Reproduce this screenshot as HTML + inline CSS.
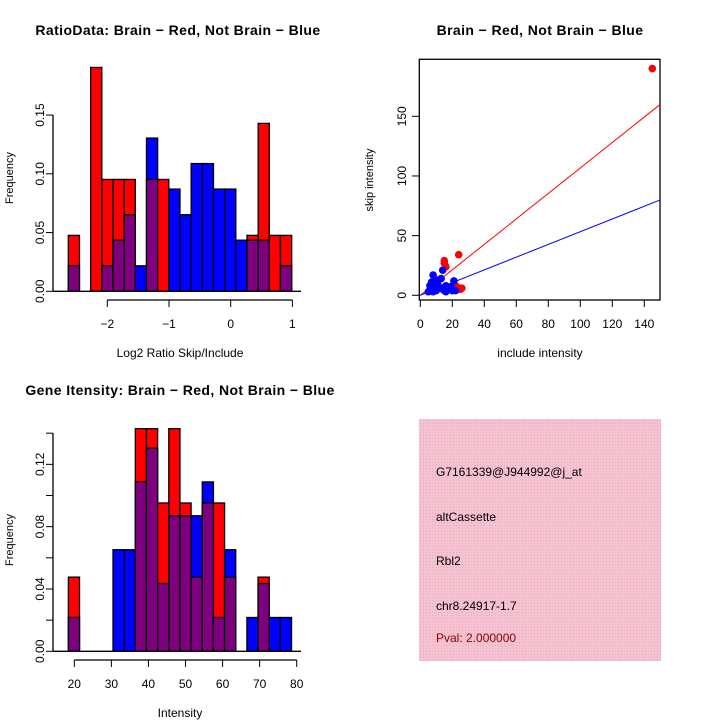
<!DOCTYPE html>
<html><head><meta charset="utf-8"><style>
html,body{margin:0;padding:0;background:#fff;}
svg{display:block;font-family:"Liberation Sans",sans-serif;}
</style></head><body>
<svg id="c" width="720" height="720" viewBox="0 0 720 720">
<rect width="720" height="720" fill="#fff"/>
<defs><pattern id="hatch" width="3" height="3" patternUnits="userSpaceOnUse"><rect width="3" height="3" fill="#f4c2d0"/><rect width="1" height="1" fill="#eea8bc"/></pattern></defs>
<g id="p1"></g>
<g id="p2"></g>
<g id="p3"></g>
<g>
<rect x="419" y="419" width="242" height="242" fill="url(#hatch)"/>
<text x="436" y="476" font-size="12">G7161339@J944992@j_at</text>
<text x="436" y="521" font-size="12">altCassette</text>
<text x="436" y="565" font-size="12">Rbl2</text>
<text x="436" y="610" font-size="12">chr8.24917-1.7</text>
<text x="436" y="642" font-size="12" fill="#8b0000">Pval: 2.000000</text>
</g>
</svg>
<script>
// ---- data ----
const ratioStart = -2.632, ratioWidth = 0.181;
const ratioRed = [0.0476,0,0.1905,0.0952,0.0952,0.0952,0,0.0952,0.0952,0,0,0,0,0,0,0,0.0476,0.1429,0.0476,0.0476];
const ratioBlue = [0.0217,0,0,0.0217,0.0435,0.0652,0.0217,0.1304,0,0.087,0.0652,0.1087,0.1087,0.087,0.087,0.0435,0.0435,0.0435,0,0.0217];
const ratioXTicks = [-2,-1,0,1];
const ratioYTicks = [0,0.05,0.10,0.15];
const ratioYLabels = ["0.00","0.05","0.10","0.15"];
const intStart = 18.4, intWidth = 3.01;
const intRed = [0.0476,0,0,0,0,0,0.1429,0.1429,0.0952,0.1429,0.0952,0.0476,0.0952,0.0952,0.0476,0,0,0.0476,0,0];
const intBlue = [0.0217,0,0,0,0.0652,0.0652,0.1087,0.1304,0.0435,0.087,0.087,0.087,0.1087,0.0217,0.0652,0,0.0217,0.0435,0.0217,0.0217];
const intXTicks = [20,30,40,50,60,70,80];
const intYTicks = [0,0.02,0.04,0.06,0.08,0.10,0.12,0.14];
const intYLabels = ["0.00","","0.04","","0.08","","0.12",""];
const scRedX = [145,24,15,16,15,22,26,25,10,12,18,20,23,14,9];
const scRedY = [190,34,29,24,27,8,6,5,13,6,5,4,7,5,9];
const scBlueX = [8,14,21,13,6,7,9,10,11,12,15,16,17,18,19,20,5,8,13,22,10,16];
const scBlueY = [17,21,12,14,8,11,5,4,9,6,4,8,5,6,7,4,3,3,6,4,12,3];
const scXTicks = [0,20,40,60,80,100,120,140];
const scYTicks = [0,50,100,150];
const redSlope = 1.067, blueSlope = 0.533;

const NS="http://www.w3.org/2000/svg";
function mk(p,tag,a,txt){const e=document.createElementNS(NS,tag);for(const k in a)e.setAttribute(k,a[k]);if(txt!==undefined)e.textContent=txt;p.appendChild(e);return e;}

function hist(g,cfg){
  const xs=v=>cfg.x0px+(v-cfg.x0)*cfg.xk, ys=v=>cfg.y0px-v*cfg.yk;
  for(let i=0;i<cfg.red.length;i++){
    const l=xs(cfg.start+i*cfg.w), r=xs(cfg.start+(i+1)*cfg.w);
    const rv=cfg.red[i], bv=cfg.blue[i], mx=Math.max(rv,bv), mn=Math.min(rv,bv);
    if(mx<=0) continue;
    const top=mk(g,'rect',{x:l,y:ys(mx),width:r-l,height:ys(0)-ys(mx),fill:rv>=bv?'#ff0000':'#0000ff',stroke:'#000','stroke-width':1.3});
    
    
    if(mn>0){const o=mk(g,'rect',{x:l,y:ys(mn),width:r-l,height:ys(0)-ys(mn),fill:'#7f007f',stroke:'#000','stroke-width':1.3});
      
      }
  }
  mk(g,'line',{x1:53,x2:301,y1:ys(0),y2:ys(0),stroke:'#000','stroke-width':1.3});
  const ya=cfg.yt[cfg.yt.length-1];
  mk(g,'line',{x1:53,x2:53,y1:ys(0),y2:ys(ya),stroke:'#000','stroke-width':1.3});
  cfg.yt.forEach((t,i)=>{mk(g,'line',{x1:46,x2:53,y1:ys(t),y2:ys(t),stroke:'#000'});
    if(cfg.yl[i]){const tx=mk(g,'text',{x:44,y:ys(t),'font-size':12,'text-anchor':'middle',transform:`rotate(-90 44 ${ys(t)})`},cfg.yl[i]);
      
      }});
  const xa=cfg.axY;
  mk(g,'line',{x1:xs(cfg.xt[0]),x2:xs(cfg.xt[cfg.xt.length-1]),y1:xa,y2:xa,stroke:'#000','stroke-width':1.3});
  cfg.xt.forEach(t=>{mk(g,'line',{x1:xs(t),x2:xs(t),y1:xa,y2:xa+7,stroke:'#000'});
    const tx=mk(g,'text',{x:xs(t),y:xa+28,'font-size':12,'text-anchor':'middle'},t<0?'\u2212'+(-t):String(t));
    
    });
  const yt=mk(g,'text',{x:13,y:cfg.ymid,'font-size':11,'text-anchor':'middle',transform:`rotate(-90 13 ${cfg.ymid})`},'Frequency');
  
  
  const xt=mk(g,'text',{x:cfg.xtx,y:xa+57,'font-size':12,'text-anchor':'middle'},cfg.xtitle);
  
  
  const ti=mk(g,'text',{x:cfg.tx,y:cfg.ty,'font-size':14,'font-weight':'bold','text-anchor':'middle','letter-spacing':'0.4'},cfg.title);
  
  
}
hist(document.getElementById('p1'),{x0:-2,x0px:107.3,xk:61.7,y0px:291.3,yk:1175,start:ratioStart,w:ratioWidth,red:ratioRed,blue:ratioBlue,
  yt:ratioYTicks,yl:ratioYLabels,xt:ratioXTicks,axY:300,ymid:178,xtx:180,xtitle:'Log2 Ratio Skip/Include',tx:178,ty:35,title:'RatioData: Brain \u2212 Red, Not Brain \u2212 Blue'});
hist(document.getElementById('p3'),{x0:20,x0px:74.3,xk:3.707,y0px:651.3,yk:1558,start:intStart,w:intWidth,red:intRed,blue:intBlue,
  yt:intYTicks,yl:intYLabels,xt:intXTicks,axY:660,ymid:540,xtx:180,xtitle:'Intensity',tx:180,ty:395,title:'Gene Itensity: Brain \u2212 Red, Not Brain \u2212 Blue'});

// scatter
(function(){
  const g=document.getElementById('p2');
  const xs=v=>420.3+v*1.6, ys=v=>295.3-v*1.1933;
  mk(g,'rect',{x:419.3,y:59.3,width:240.7,height:240.7,fill:'none',stroke:'#000','stroke-width':1.3});
  const cp=mk(g,'clipPath',{id:'scclip'});mk(cp,'rect',{x:419.3,y:59.3,width:240.7,height:240.7});
  const lg=mk(g,'g',{'clip-path':'url(#scclip)'});
  const rl=mk(lg,'line',{x1:xs(0),y1:ys(0),x2:xs(160),y2:ys(160*redSlope),stroke:'#ff0000'});
  
  
  const bl=mk(lg,'line',{x1:xs(0),y1:ys(0),x2:xs(160),y2:ys(160*blueSlope),stroke:'#0000ff'});
  
  
  scRedX.forEach((v,i)=>{const c=mk(lg,'circle',{cx:xs(v),cy:ys(scRedY[i]),r:3.8,fill:'#ff0000'});
    
    });
  scBlueX.forEach((v,i)=>{const c=mk(lg,'circle',{cx:xs(v),cy:ys(scBlueY[i]),r:3.8,fill:'#0000ff'});
    
    });
  scXTicks.forEach(t=>{mk(g,'line',{x1:xs(t),x2:xs(t),y1:300,y2:307,stroke:'#000'});
    const tx=mk(g,'text',{x:xs(t),y:328,'font-size':12,'text-anchor':'middle'},String(t));
    
    });
  scYTicks.forEach(t=>{mk(g,'line',{x1:412,x2:419.3,y1:ys(t),y2:ys(t),stroke:'#000'});
    const tx=mk(g,'text',{x:406,y:ys(t),'font-size':12,'text-anchor':'middle',transform:`rotate(-90 406 ${ys(t)})`},String(t));
    
    });
  const xt=mk(g,'text',{x:540,y:357,'font-size':12,'text-anchor':'middle'},'include intensity');
  
  
  const yt=mk(g,'text',{x:373,y:180,'font-size':11,'text-anchor':'middle',transform:'rotate(-90 373 180)'},'skip intensity');
  
  
  const ti=mk(g,'text',{x:540,y:35,'font-size':14,'font-weight':'bold','text-anchor':'middle','letter-spacing':'0.4'},'Brain \u2212 Red, Not Brain \u2212 Blue');
  
  
})();
</script>
</body></html>
